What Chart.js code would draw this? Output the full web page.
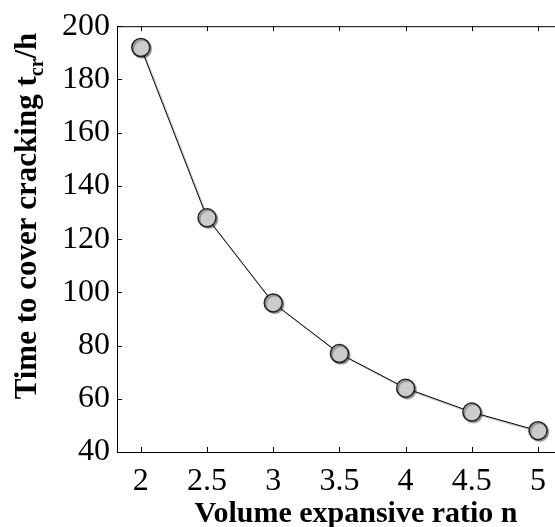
<!DOCTYPE html>
<html>
<head>
<meta charset="utf-8">
<script src="https://cdn.jsdelivr.net/npm/chart.js@4.4.0/dist/chart.umd.min.js"></script>
<style>
  html, body { margin: 0; padding: 0; background: #fff; overflow: hidden; }
  #wrap { width: 555px; height: 527px; overflow: hidden; }
  #myChart { display: block; }
</style>
</head>
<body>
<div id="wrap"><canvas id="myChart" width="575" height="527"></canvas></div>
<script>
// values
const ratios = [2, 2.5, 3, 3.5, 4, 4.5, 5];
const crackTimes = [192, 128, 96, 77, 64, 55, 48];
const xTicks = [2, 2.5, 3, 3.5, 4, 4.5, 5];
const yTicks = [40, 60, 80, 100, 120, 140, 160, 180, 200];

const serif = "'Times New Roman', 'Liberation Serif', serif";

// inner ticks, top frame line, point shadow and the axis titles
const framePlugin = {
    id: 'frame',
    beforeDatasetDraw(chart) {
        const ctx = chart.ctx;
        ctx.save();
        ctx.shadowColor = 'rgba(0,0,0,0.35)';
        ctx.shadowOffsetX = 1.5;
        ctx.shadowOffsetY = 1.5;
        ctx.shadowBlur = 1;
    },
    afterDatasetDraw(chart) {
        chart.ctx.restore();
    },
    afterDraw(chart) {
        const ctx = chart.ctx;
        const a = chart.chartArea;
        const xs = chart.scales.x;
        const ys = chart.scales.y;
        ctx.save();
        ctx.strokeStyle = '#000';
        ctx.lineWidth = 1;
        ctx.beginPath();
        ctx.moveTo(a.left, a.top + 0.5);
        ctx.lineTo(a.right, a.top + 0.5);
        xTicks.forEach(v => {
            const px = Math.round(xs.getPixelForValue(v)) + 0.5;
            ctx.moveTo(px, a.bottom);
            ctx.lineTo(px, a.bottom - 5);
            ctx.moveTo(px, a.top);
            ctx.lineTo(px, a.top + 5);
        });
        yTicks.forEach(v => {
            const py = Math.round(ys.getPixelForValue(v)) + 0.5;
            ctx.moveTo(a.left, py);
            ctx.lineTo(a.left + 5, py);
        });
        ctx.stroke();

        ctx.fillStyle = '#000';
        ctx.textBaseline = 'alphabetic';

        // x title
        ctx.font = "bold 30px " + serif;
        ctx.textAlign = 'center';
        ctx.fillText('Volume expansive ratio n', 356, 522);

        // y title with subscript
        ctx.textAlign = 'left';
        const main1 = 'Time to cover cracking t';
        const sub = 'cr';
        const main2 = '/h';
        const fMain = "bold 31px " + serif;
        const fSub = "bold 20px " + serif;
        ctx.font = fMain;
        const w1 = ctx.measureText(main1).width;
        const w3 = ctx.measureText(main2).width;
        ctx.font = fSub;
        const w2 = ctx.measureText(sub).width;
        const total = w1 + w2 + w3;
        ctx.translate(36, 216);
        ctx.rotate(-Math.PI / 2);
        let x = -total / 2;
        ctx.font = fMain;
        ctx.fillText(main1, x, 0);
        x += w1;
        ctx.font = fSub;
        ctx.fillText(sub, x, 7);
        x += w2;
        ctx.font = fMain;
        ctx.fillText(main2, x, 0);
        ctx.restore();
    }
};

const data = {
    datasets: [{
        data: ratios.map((r, i) => ({x: r, y: crackTimes[i]})),
        borderColor: '#000',
        borderWidth: 1,
        tension: 0,
        pointRadius: 9,
        pointHoverRadius: 9,
        pointBackgroundColor: '#cccccc',
        pointBorderColor: '#222',
        pointBorderWidth: 1.5
    }]
};

const config = {
    type: 'line',
    data: data,
    options: {
        responsive: false,
        animation: false,
        events: [],
        layout: { padding: { top: 22, right: 10, left: 0, bottom: 0 } },
        plugins: { legend: { display: false }, tooltip: { enabled: false } },
        scales: {
            x: {
                type: 'linear',
                min: 1.82,
                max: 5.2,
                afterBuildTicks: s => { s.ticks = xTicks.map(v => ({value: v})); },
                afterFit: s => { s.height = 75; },
                grid: { display: false, drawTicks: false },
                border: { display: true, color: '#000', width: 1 },
                ticks: {
                    color: '#000',
                    padding: 10,
                    autoSkip: false,
                    maxRotation: 0,
                    font: { family: serif, size: 32 },
                    callback: v => String(v)
                }
            },
            y: {
                min: 40,
                max: 200,
                afterBuildTicks: s => { s.ticks = yTicks.map(v => ({value: v})); },
                afterFit: s => { s.width = 117; },
                grid: { display: false, drawTicks: false },
                border: { display: true, color: '#000', width: 1 },
                ticks: {
                    color: '#000',
                    padding: 7,
                    font: { family: serif, size: 32 }
                }
            }
        }
    },
    plugins: [framePlugin]
};

const myChart = new Chart(document.getElementById('myChart').getContext('2d'), config);
</script>
</body>
</html>
